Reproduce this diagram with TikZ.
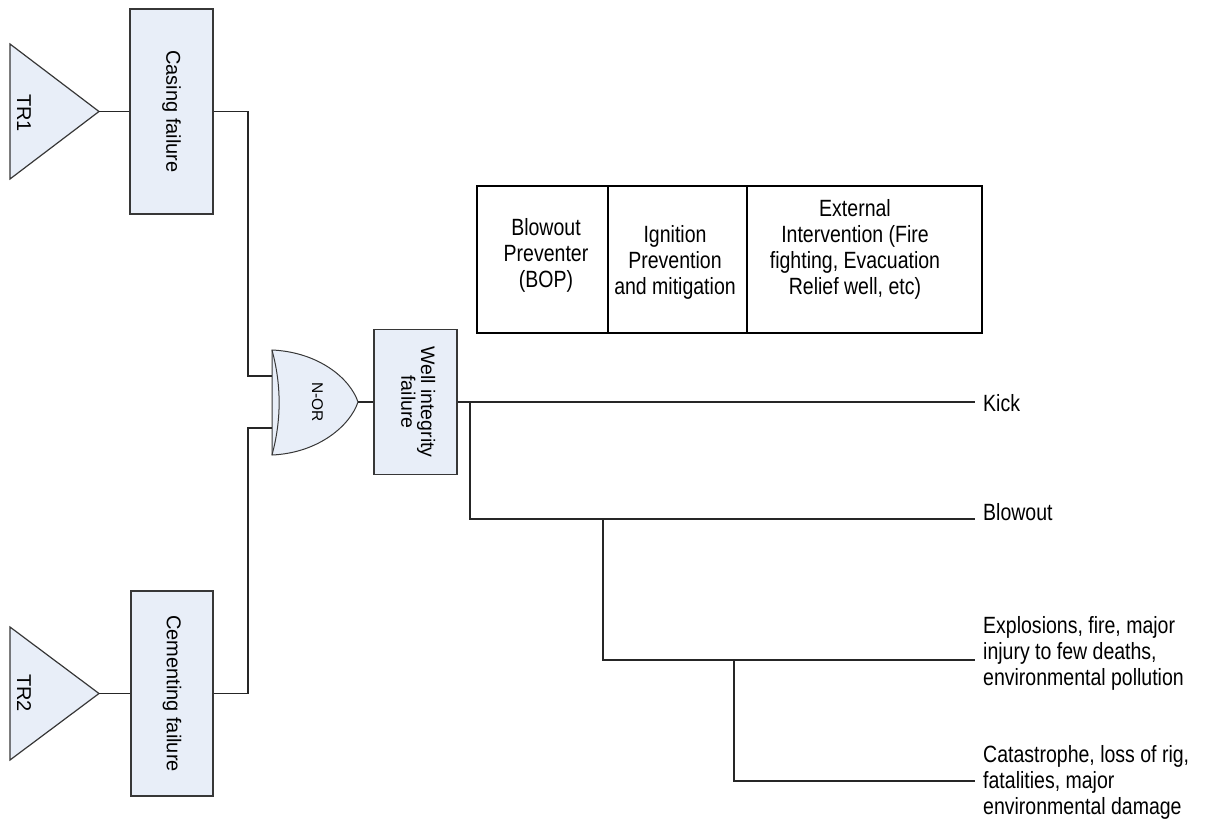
\documentclass[tikz,border=0pt]{standalone}
\usepackage{fontspec}
\setmainfont{Liberation Sans}
\usepackage{graphicx}
\definecolor{boxfill}{RGB}{232,238,248}
\definecolor{edgegray}{RGB}{55,55,55}
\newcommand{\htext}[2][l]{\scalebox{0.83}[1]{\begin{tabular}[t]{@{}#1@{}}#2\end{tabular}}}
\newcommand{\vtext}[1]{\rotatebox{-90}{#1}}
\begin{document}
\begin{tikzpicture}[x=1pt,y=-1pt,
  wire/.style={draw=black!85, line width=1.2pt},
  fbox/.style={draw=edgegray, fill=boxfill, line width=1.2pt, inner sep=0pt},
  gateline/.style={draw=edgegray, line width=1pt},
  cell/.style={draw=black, line width=1.2pt, inner sep=0pt, minimum height=147pt},
  htxt/.style={inner sep=0pt, font=\fontsize{23.5}{26}\selectfont},
  vfont/.style={font=\fontsize{20}{22}\selectfont},
  vtxt/.style={inner sep=0pt, vfont}]
\useasboundingbox (0,0) rectangle (1206,827);

% transfer triangles
\draw[fbox] (10,44) -- (99,111.5) coordinate (tr1tip) -- (10,179) -- cycle;
\node[vtxt] (tr1) at (24,113) {\vtext{TR1}};
\draw[fbox] (10,627) -- (99,693.5) coordinate (tr2tip) -- (10,760) -- cycle;
\node[vtxt] (tr2) at (24,693) {\vtext{TR2}};

% event boxes
\node[fbox, vfont, minimum width=83pt, minimum height=205pt] (casing) at (171.5,111.5) {\vtext{Casing failure}};
\node[fbox, vfont, minimum width=82pt, minimum height=205pt] (cement) at (172,693.5) {\vtext{Cementing failure}};
\node[fbox, font=\fontsize{19.5}{19}\selectfont, minimum width=83pt, minimum height=145pt] (well) at (415.5,402) {\vtext{\begin{tabular}{@{}c@{}}Well integrity\\failure\end{tabular}}};

% gate
\coordinate (gtop) at (272,350);
\coordinate (gbot) at (272,455);
\coordinate (gtip) at (358,402);
\coordinate (gin1) at (272,376);
\coordinate (gin2) at (272,428);
\coordinate (b1) at (248,376);
\coordinate (b2) at (248,428);
\draw[fbox, line width=1pt] (gtop) .. controls (318,352) and (350,378) .. (gtip)
  .. controls (350,426) and (318,453) .. (gbot) -- cycle;
\draw[gateline] (gtop) .. controls (281.5,385) and (281.5,420) .. (gbot);
\node[inner sep=0pt, font=\fontsize{15.5}{17}\selectfont] (nor) at (317.5,402) {\vtext{N-OR}};

% connectors on the left
\draw[wire] (tr1tip) -- (casing.west);
\draw[wire] (tr2tip) -- (cement.west);
\draw[wire] (casing.east) -| (b1) -- (gin1);
\draw[wire] (cement.east) -| (b2) -- (gin2);
\draw[wire] (gtip) -- (well.west);

% consequence tree
\coordinate (kickend) at (975,402);
\coordinate (blowend) at (975,519);
\coordinate (explend) at (975,660);
\coordinate (catend) at (975,781);
\coordinate (k1) at (470,402);
\coordinate (bl1) at (603,519);
\coordinate (ex1) at (734,660);
\draw[wire] (well.east) -- (kickend);
\draw[wire] (k1) |- (blowend);
\draw[wire] (bl1) |- (explend);
\draw[wire] (ex1) |- (catend);

\node[htxt, anchor=base west] (kick) at (983,411) {\htext{Kick}};
\node[htxt, anchor=base west] (blow) at (983,520) {\htext{Blowout}};
\node[htxt, anchor=base west] (expl) at (983,633) {\htext{Explosions, fire, major\\injury to few deaths,\\environmental pollution}};
\node[htxt, anchor=base west] (cat) at (983,762) {\htext{Catastrophe, loss of rig,\\fatalities, major\\environmental damage}};

% barrier table
\node[cell, minimum width=131pt] (c1) at (542.5,259.5) {};
\node[cell, minimum width=139pt] (c2) at (677.5,259.5) {};
\node[cell, minimum width=235pt] (c3) at (864.5,259.5) {};
\node[htxt, anchor=base] (t1) at (546,235) {\htext[c]{Blowout\\Preventer\\(BOP)}};
\node[htxt, anchor=base] (t2) at (675,242) {\htext[c]{Ignition\\Prevention\\and mitigation}};
\node[htxt, anchor=base] (t3) at (855,216.5) {\htext[c]{External\\Intervention (Fire\\fighting, Evacuation\\Relief well, etc)}};
\end{tikzpicture}
\end{document}
